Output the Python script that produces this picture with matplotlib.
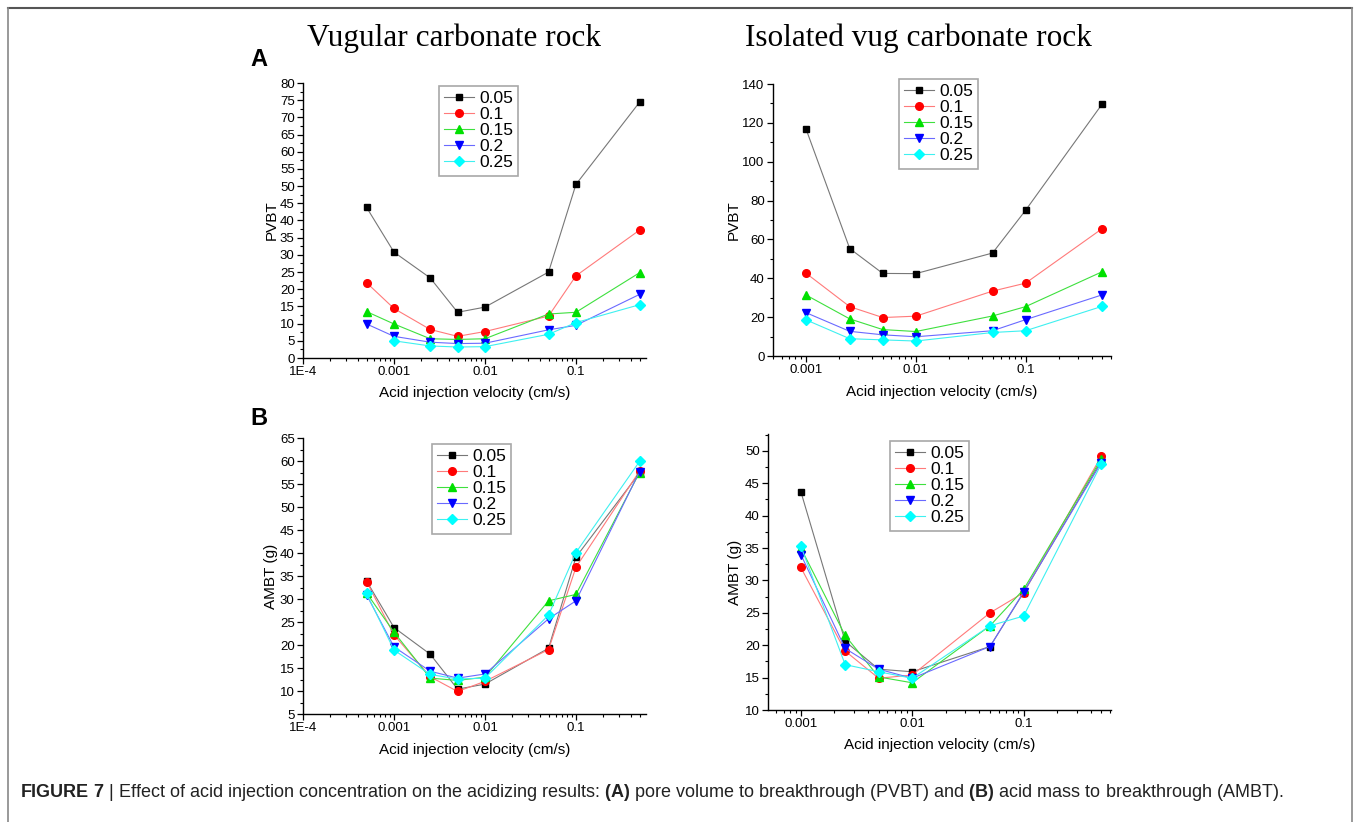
import numpy as np
import matplotlib
matplotlib.use("Agg")
import matplotlib.pyplot as plt
from matplotlib import font_manager
from matplotlib.lines import Line2D
from matplotlib.ticker import LogLocator, FuncFormatter, MultipleLocator, NullFormatter

# data
vel_a = [5e-4, 1e-3, 2.5e-3, 5e-3, 1e-2, 5e-2, 1e-1, 5e-1]
vel_b = [1e-3, 2.5e-3, 5e-3, 1e-2, 5e-2, 1e-1, 5e-1]
conc = ["0.05", "0.1", "0.15", "0.2", "0.25"]

pvbt_vug = [
    [43.8, 30.8, 23.3, 13.3, 14.8, 25.0, 50.5, 74.4],
    [21.9, 14.4, 8.3, 6.3, 7.7, 12.2, 23.9, 37.2],
    [13.5, 9.9, 5.6, 5.4, 5.6, 12.8, 13.3, 24.8],
    [9.9, 6.3, 4.6, 4.2, 4.3, 8.2, 9.5, 18.5],
    [np.nan, 5.0, 3.5, 3.2, 3.3, 6.9, 10.3, 15.5],
]
pvbt_iso = [
    [116.8, 55.3, 42.5, 42.4, 53.0, 75.0, 129.8],
    [42.6, 25.4, 19.8, 20.5, 33.4, 37.5, 65.6],
    [31.4, 19.1, 13.6, 12.6, 20.6, 25.4, 43.4],
    [22.3, 12.7, 10.9, 9.9, 13.0, 18.7, 31.5],
    [18.6, 8.9, 8.3, 7.7, 12.1, 13.0, 25.6],
]
ambt_vug = [
    [33.9, 23.8, 18.0, 10.4, 11.5, 19.3, 39.1, 57.4],
    [33.8, 22.2, 13.1, 9.9, 12.1, 19.0, 36.9, 57.8],
    [31.3, 22.8, 12.8, 12.3, 13.0, 29.6, 31.0, 57.5],
    [30.9, 19.6, 14.3, 12.8, 13.7, 25.7, 29.6, 57.7],
    [31.2, 18.9, 13.6, 12.6, 12.8, 26.5, 40.1, 59.9],
]
ambt_iso = [
    [43.7, 20.6, 16.3, 15.9, 19.8, 28.1, 48.5],
    [32.0, 19.1, 14.9, 15.4, 25.0, 28.1, 49.2],
    [35.0, 21.5, 15.1, 14.2, 23.0, 28.6, 48.8],
    [34.0, 19.5, 16.3, 14.9, 19.8, 28.2, 48.2],
    [35.3, 17.0, 15.9, 14.9, 23.0, 24.5, 48.0],
]

colors = ["#000000", "#ff0000", "#00e000", "#0000ff", "#00ffff"]
line_colors = ["#777777", "#ff7a7a", "#3ee03e", "#6a6aff", "#3ff0f0"]
markers = ["s", "o", "^", "v", "D"]
msizes = [5, 5.5, 6, 6, 5]

names = {f.name for f in font_manager.fontManager.ttflist}
sans = "Liberation Sans Narrow" if "Liberation Sans Narrow" in names else "Liberation Sans"
plt.rcParams["font.family"] = [sans, "DejaVu Sans"]
plt.rcParams["mathtext.fontset"] = "custom"
plt.rcParams["mathtext.rm"] = sans
plt.rcParams["mathtext.bf"] = sans + ":bold"

W, H = 1354, 822
fig = plt.figure(figsize=(W / 100, H / 100), dpi=100)


def px_axes(x0, x1, y0, y1):
    return fig.add_axes([x0 / W, 1 - y1 / H, (x1 - x0) / W, (y1 - y0) / H])


def fmt_vel(v, pos):
    lab = {-4: "1E-4", -3: "0.001", -2: "0.01", -1: "0.1", 0: "1"}
    return lab.get(int(round(np.log10(v))), "")


def panel(ax, xs, data, xlim, ylim, major, minor, ylabel, ylx, xly, leg_xy):
    for i in range(5):
        ax.plot(xs, data[i], color=line_colors[i], lw=0.8, marker=markers[i],
                ms=msizes[i], mfc=colors[i], mec=colors[i], label=conc[i])
    ax.set_xscale("log")
    ax.set_xlim(*xlim)
    ax.set_ylim(*ylim)
    ax.xaxis.set_major_locator(LogLocator(base=10, numticks=10))
    ax.xaxis.set_major_formatter(FuncFormatter(fmt_vel))
    ax.xaxis.set_minor_locator(LogLocator(base=10, subs=np.arange(2, 10), numticks=20))
    ax.xaxis.set_minor_formatter(NullFormatter())
    ax.yaxis.set_major_locator(MultipleLocator(major))
    ax.yaxis.set_minor_locator(MultipleLocator(minor))
    for s in ["top", "right"]:
        ax.spines[s].set_visible(False)
    for s in ["left", "bottom"]:
        ax.spines[s].set_linewidth(1.0)
    ax.tick_params(which="major", direction="out", length=4, width=0.9, labelsize=9.5, pad=2)
    ax.tick_params(which="minor", direction="out", length=2.3, width=0.8)
    ax.set_ylabel(ylabel, fontsize=11, va="center")
    ax.yaxis.set_label_coords(ylx, 0.5)
    ax.set_xlabel("Acid injection velocity (cm/s)", fontsize=11, va="center")
    ax.xaxis.set_label_coords(0.5, xly)
    leg = ax.legend(loc="upper left", bbox_to_anchor=(leg_xy[0] / W, 1 - leg_xy[1] / H),
                    bbox_transform=fig.transFigure, borderaxespad=0, fontsize=12.5,
                    fancybox=False, framealpha=1, edgecolor="#a8a8a8",
                    handlelength=1.7, handletextpad=0.3, labelspacing=0.05,
                    borderpad=0.3)
    leg.get_frame().set_linewidth(1.2)


ax1 = px_axes(303, 646, 83, 358)
panel(ax1, vel_a, pvbt_vug, (1e-4, 0.589), (0, 80), 5, 2.5, "PVBT", -0.091, -0.127, (439, 86))
ax2 = px_axes(773, 1111, 84, 356)
panel(ax2, vel_b, pvbt_iso, (5.0e-4, 0.60), (0, 140), 20, 10, "PVBT", -0.115, -0.131, (899, 79))
ax3 = px_axes(303, 646, 438, 714)
panel(ax3, vel_a, ambt_vug, (1e-4, 0.589), (5, 65), 5, 2.5, "AMBT (g)", -0.093, -0.129, (432, 444))
ax4 = px_axes(768, 1111, 434, 710)
panel(ax4, vel_b, ambt_iso, (5.07e-4, 0.61), (10, 52.6), 5, 2.5, "AMBT (g)", -0.097, -0.127, (890, 441))

serif = "Liberation Serif"
fig.text(454 / W, 1 - 38 / H, "Vugular carbonate rock", family=serif, fontsize=22.5,
         ha="center", va="center")
fig.text(918 / W, 1 - 38 / H, "Isolated vug carbonate rock", family=serif, fontsize=22.5,
         ha="center", va="center")
fig.text(259 / W, 1 - 59 / H, "A", fontsize=17, weight="bold", ha="center", va="center")
fig.text(259 / W, 1 - 418 / H, "B", fontsize=17, weight="bold", ha="center", va="center")

caption = (r"$\bf{FIGURE\ 7}$ | Effect of acid injection concentration on the acidizing results: "
           r"$\bf{(A)}$ pore volume to breakthrough (PVBT) and $\bf{(B)}$ acid mass to "
           r"breakthrough (AMBT).")
fig.text(20 / W, 1 - 792 / H, caption, fontsize=13, ha="left", va="center", color="#222222")

# outer frame of the figure
fig.add_artist(Line2D([8 / W, 1352 / W], [1 - 8 / H, 1 - 8 / H], color="#555555", lw=1.5))
fig.add_artist(Line2D([8 / W, 8 / W], [0, 1 - 8 / H], color="#888888", lw=1.2))
fig.add_artist(Line2D([1352 / W, 1352 / W], [0, 1 - 8 / H], color="#888888", lw=1.2))

fig.savefig("out.png", dpi=100)
